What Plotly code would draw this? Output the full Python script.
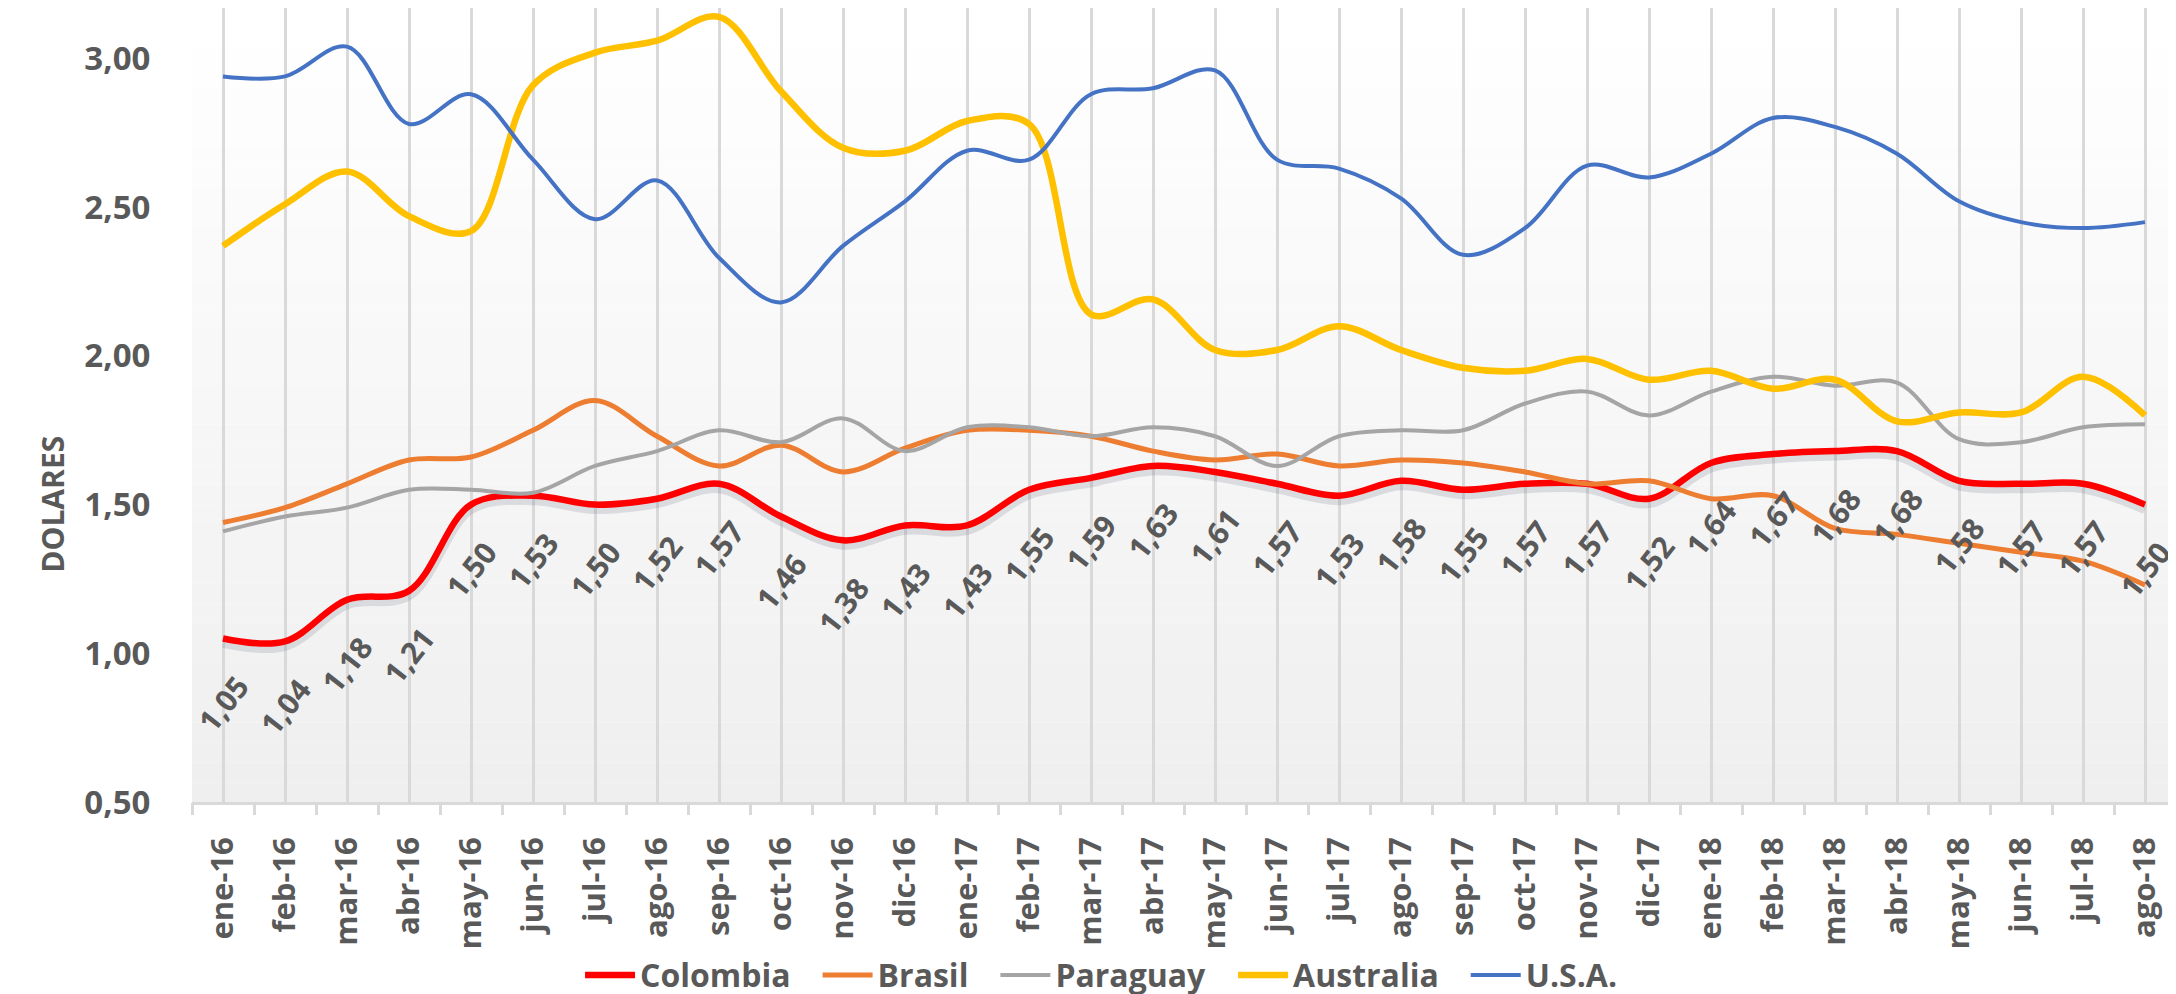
import plotly.graph_objects as go

months = ["ene-16", "feb-16", "mar-16", "abr-16", "may-16", "jun-16", "jul-16", "ago-16",
          "sep-16", "oct-16", "nov-16", "dic-16", "ene-17", "feb-17", "mar-17", "abr-17",
          "may-17", "jun-17", "jul-17", "ago-17", "sep-17", "oct-17", "nov-17", "dic-17",
          "ene-18", "feb-18", "mar-18", "abr-18", "may-18", "jun-18", "jul-18", "ago-18"]

colombia = [1.05, 1.04, 1.18, 1.21, 1.50, 1.53, 1.50, 1.52, 1.57, 1.46, 1.38, 1.43,
            1.43, 1.55, 1.59, 1.63, 1.61, 1.57, 1.53, 1.58, 1.55, 1.57, 1.57, 1.52,
            1.64, 1.67, 1.68, 1.68, 1.58, 1.57, 1.57, 1.50]
brasil = [1.44, 1.49, 1.57, 1.65, 1.66, 1.75, 1.85, 1.73, 1.63, 1.70, 1.61, 1.69,
          1.75, 1.75, 1.73, 1.68, 1.65, 1.67, 1.63, 1.65, 1.64, 1.61, 1.57, 1.58,
          1.52, 1.53, 1.42, 1.40, 1.37, 1.34, 1.31, 1.23]
paraguay = [1.41, 1.46, 1.49, 1.55, 1.55, 1.54, 1.63, 1.68, 1.75, 1.71, 1.79, 1.68,
            1.76, 1.76, 1.73, 1.76, 1.73, 1.63, 1.73, 1.75, 1.75, 1.84, 1.88, 1.80,
            1.88, 1.93, 1.90, 1.91, 1.72, 1.71, 1.76, 1.77]
australia = [2.37, 2.51, 2.62, 2.47, 2.42, 2.91, 3.02, 3.06, 3.14, 2.89, 2.70, 2.69,
             2.79, 2.78, 2.14, 2.19, 2.02, 2.02, 2.10, 2.02, 1.96, 1.95, 1.99, 1.92,
             1.95, 1.89, 1.92, 1.78, 1.81, 1.81, 1.93, 1.80]
usa = [2.94, 2.94, 3.04, 2.78, 2.88, 2.66, 2.46, 2.59, 2.33, 2.18, 2.37, 2.52,
       2.69, 2.66, 2.88, 2.90, 2.96, 2.66, 2.63, 2.53, 2.34, 2.43, 2.64, 2.60,
       2.68, 2.80, 2.77, 2.68, 2.52, 2.45, 2.43, 2.45]

series = [
    ("Colombia", colombia, "#FF0000", 6.5),
    ("Brasil", brasil, "#ED7D31", 5),
    ("Paraguay", paraguay, "#A5A5A5", 4),
    ("Australia", australia, "#FFC000", 6.5),
    ("U.S.A.", usa, "#4472C4", 4),
]

FONT = "Open Sans"
TXT = "#595959"
Y_MIN, Y_MAX = 0.5, 3.17
X_RANGE = [-0.5, len(months) - 0.5]
SHADOW_SHIFT = 0.015

fig = go.Figure()

# drop shadow under the Colombia line (base subplot, slightly shifted axis)
fig.add_trace(go.Scatter(
    x=months, y=colombia, mode="lines", xaxis="x", yaxis="y",
    line=dict(color="rgba(80,90,115,0.16)", width=10, shape="spline", smoothing=1.0),
    showlegend=False, hoverinfo="skip"))

for name, vals, color, w in series:
    fig.add_trace(go.Scatter(
        x=months, y=vals, name=name, mode="lines", xaxis="x2", yaxis="y2",
        line=dict(color=color, width=w, shape="spline", smoothing=1.0)))

# data labels for Colombia
for m, v in zip(months, colombia):
    fig.add_annotation(
        x=m, y=v, xref="x2", yref="y2", text=f"{v:.2f}".replace(".", ","),
        showarrow=False, textangle=-52, yshift=-65,
        font=dict(family=FONT, size=30, color=TXT, weight="bold"))

# y axis title
fig.add_annotation(
    x=-0.0817, y=0.375, xref="paper", yref="paper", text="DOLARES",
    showarrow=False, textangle=-90,
    font=dict(family=FONT, size=30, color=TXT, weight="bold"))

# background gradient of plot area
n_bands = 40
for i in range(n_bands):
    t = i / (n_bands - 1)
    c = int(round(239 + (255 - 239) * t))
    fig.add_shape(type="rect", xref="paper", yref="paper",
                  x0=0, x1=1, y0=i / n_bands, y1=(i + 1) / n_bands,
                  fillcolor=f"rgb({c},{c},{c})", line=dict(width=0), layer="below")

fig.update_layout(
    width=2176, height=994,
    margin=dict(l=184, r=8, t=0, b=200, autoexpand=False),
    paper_bgcolor="white",
    plot_bgcolor="white",
    separators=",.",
    font=dict(family=FONT, color=TXT),
    xaxis=dict(
        type="category", categoryorder="array", categoryarray=months,
        range=X_RANGE, autorange=False, automargin=False,
        showgrid=True, gridcolor="#D9D9D9", gridwidth=2.5,
        showline=True, linecolor="#D9D9D9", linewidth=2.5,
        ticks="outside", ticklen=20, tickcolor="rgba(0,0,0,0)",
        tickangle=-90,
        tickfont=dict(family=FONT, size=31, color=TXT, weight="bold"),
        zeroline=False,
    ),
    yaxis=dict(
        range=[Y_MIN + SHADOW_SHIFT, Y_MAX + SHADOW_SHIFT],
        visible=False, showgrid=False, zeroline=False, automargin=False,
    ),
    xaxis2=dict(
        type="category", categoryorder="array", categoryarray=months,
        range=X_RANGE, autorange=False, automargin=False,
        overlaying="x", anchor="y2", tickson="boundaries",
        ticks="outside", ticklen=12, tickwidth=2.5, tickcolor="#D9D9D9",
        showticklabels=False, showgrid=False, showline=False, zeroline=False,
    ),
    yaxis2=dict(
        range=[Y_MIN, Y_MAX], overlaying="y", anchor="x2", side="left",
        automargin=False,
        tickmode="linear", tick0=0.5, dtick=0.5, tickformat=".2f",
        ticks="outside", ticklen=34, tickcolor="rgba(0,0,0,0)",
        tickfont=dict(family=FONT, size=33, color=TXT, weight="bold"),
        showgrid=False, zeroline=False, showline=False,
    ),
    legend=dict(
        orientation="h", x=0.1845, xanchor="left", y=-0.218, yanchor="middle",
        font=dict(family=FONT, size=32, color=TXT, weight="bold"),
        bgcolor="rgba(0,0,0,0)", itemwidth=50, indentation=22,
        traceorder="normal",
    ),
    showlegend=True,
)

fig.write_html("out.html")
